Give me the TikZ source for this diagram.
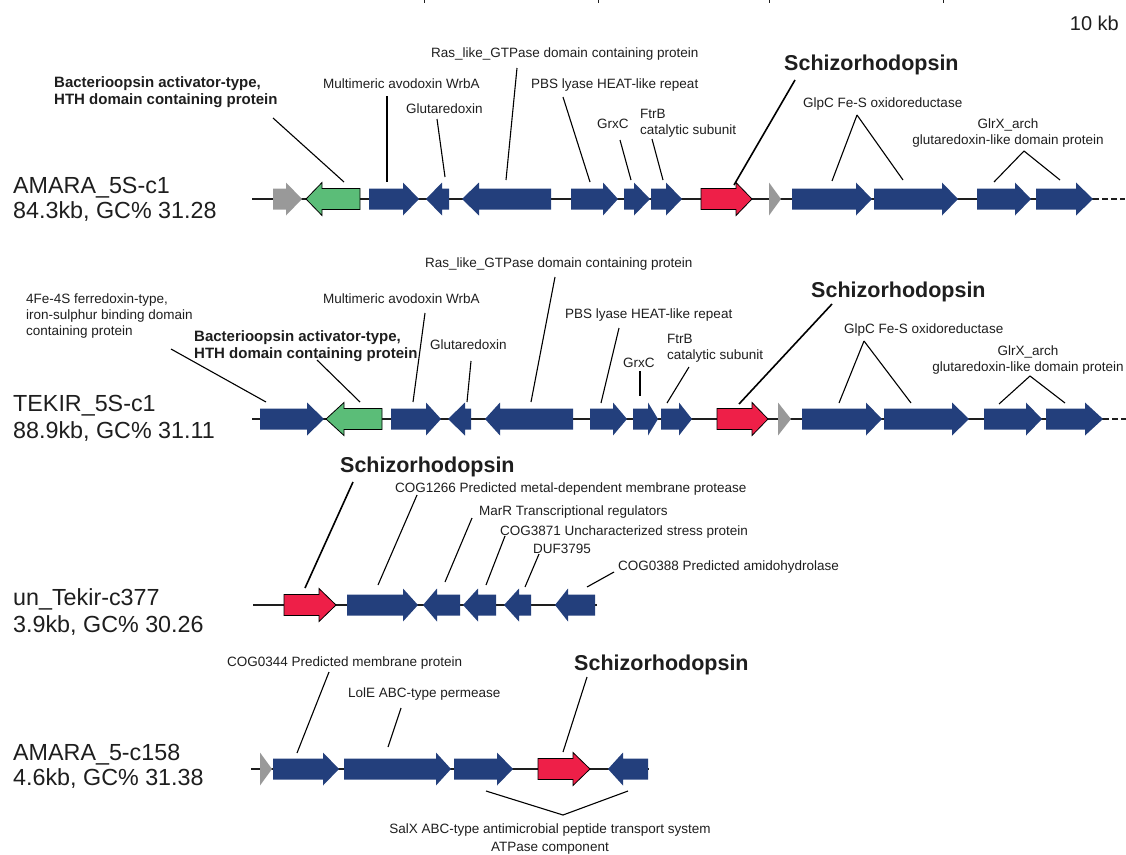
\documentclass[tikz,border=0pt]{standalone}
\usepackage{fontspec}
\setmainfont{Liberation Sans}
\usepackage{tikz}
\definecolor{geneblue}{HTML}{233F7C}
\definecolor{genered}{HTML}{EE1F48}
\definecolor{genegreen}{HTML}{5BBD78}
\definecolor{genegray}{HTML}{999999}
\definecolor{inktext}{HTML}{1E1E1E}

% gene arrow: [extra options]{colour}{tail}{head base}{tip}{row y}
\newcommand{\gene}[6][]{%
  \path[fill=#2, #1] (#3,#6-10.5) -- (#4,#6-10.5) -- (#4,#6-16.5) -- (#5,#6)
    -- (#4,#6+16.5) -- (#4,#6+10.5) -- (#3,#6+10.5) -- cycle;}

\begin{document}
\begin{tikzpicture}[x=1pt, y=-1pt,
  lab/.style={inner sep=0pt, text=inktext, font=\fontsize{13.5}{16}\selectfont},
  boldlab/.style={inner sep=0pt, text=inktext, font=\fontsize{15}{17}\selectfont\bfseries},
  rhod/.style={inner sep=0pt, text=inktext, font=\fontsize{21.5}{24}\selectfont\bfseries},
  contig/.style={inner sep=0pt, text=inktext, font=\fontsize{23.3}{26}\selectfont, anchor=base west},
  leader/.style={line width=1.1pt, black},
  rhodleader/.style={line width=1.6pt, black},
  backbone/.style={line width=1.4pt, inktext}]

\useasboundingbox (0,0) rectangle (1126,854);

% ---- Scale remnants (top) ----
\foreach \tx in {424, 598, 769, 943} {
  \draw[line width=0.8pt, inktext] (\tx,0) -- (\tx,3);
}
\node[inner sep=0pt, text=inktext, font=\fontsize{20}{22}\selectfont, anchor=base east] (scale) at (1119,30) {10 kb};

% ---- Row 1: AMARA_5S-c1 ----
\node[contig] (r1name) at (13,193) {AMARA\_5S-c1};
\node[contig] (r1info) at (13,218) {84.3kb, GC\% 31.28};

\draw[backbone] (252,199) -- (1093,199);
\draw[backbone, line width=2pt, dash pattern=on 6pt off 3pt] (1093,199) -- (1125,199);

\gene{genegray}{273}{286}{302}{199}
\gene[draw=black, line width=0.8pt]{genegreen}{360}{322}{306}{199}
\gene[draw=black, line width=0.8pt]{genered}{701}{736}{752}{199}
\gene{genegray}{769}{769}{781}{199}
\foreach \t/\b/\p in {369/403/419, 449/442/426, 551/479/462, 571/603/618,
  624/634/650, 651/666/682, 792/856/872, 874/942/958, 977/1015/1031, 1036/1076/1093} {
  \gene{geneblue}{\t}{\b}{\p}{199}
}

% multi-line labels: base anchor sits on the last line
\node[boldlab, anchor=base west, align=left] (r1bat) at (54,104.5) {Bacterioopsin activator-type,\\HTH domain containing protein};
\node[lab, anchor=base west] (r1wrba) at (323,88) {Multimeric avodoxin WrbA};
\node[lab, anchor=base west] (r1glu) at (406,113) {Glutaredoxin};
\node[lab, anchor=base west] (r1ras) at (431,57) {Ras\_like\_GTPase domain containing protein};
\node[lab, anchor=base west] (r1pbs) at (531,88) {PBS lyase HEAT-like repeat};
\node[lab, anchor=base west] (r1grx) at (597,128) {GrxC};
\node[lab, anchor=base west, align=left] (r1ftr) at (640,134) {FtrB\\catalytic subunit};
\node[rhod, anchor=base west] (r1rhod) at (784,70.5) {Schizorhodopsin};
\node[lab, anchor=base west] (r1glp) at (803,107) {GlpC Fe-S oxidoreductase};
\node[lab, anchor=base, align=center] (r1glr) at (1008,144) {GlrX\_arch\\glutaredoxin-like domain protein};

\foreach \n/\ax/\ay/\bx/\by in {r1bat/273/118/344/182, r1wrba/387/96/387/182,
  r1glu/437/119/445/177, r1ras/517/68/506/180, r1pbs/563/97/590/182,
  r1grx/620/140/631/180, r1ftr/652/139/663/180, r1glpa/857/115/832/181,
  r1glpb/857/115/903/180, r1glra/1024/151/994/182, r1glrb/1024/151/1060/180} {
  \coordinate (\n-a) at (\ax,\ay);
  \coordinate (\n-b) at (\bx,\by);
  \draw[leader] (\n-a) -- (\n-b);
}
\coordinate (r1rhod-a) at (795,80);
\coordinate (r1rhod-b) at (734,185);
\draw[rhodleader] (r1rhod-a) -- (r1rhod-b);

% ---- Row 2: TEKIR_5S-c1 ----
\node[contig] (r2name) at (13,411) {TEKIR\_5S-c1};
\node[contig] (r2info) at (13,438) {88.9kb, GC\% 31.11};

\draw[backbone] (252,419) -- (1103,419);
\draw[backbone, line width=2pt, dash pattern=on 6pt off 3pt] (1103,419) -- (1128,419);

\gene[draw=black, line width=0.8pt]{genegreen}{382}{344}{326}{419}
\gene[draw=black, line width=0.8pt]{genered}{717}{752}{768}{419}
\gene{genegray}{778}{778}{791}{419}
\foreach \t/\b/\p in {260/307/324, 391/426/441, 471/465/448, 573/500/485,
  590/613/627, 633/648/658, 661/679/692, 802/866/882, 884/952/969,
  984/1026/1042, 1046/1085/1103} {
  \gene{geneblue}{\t}{\b}{\p}{419}
}

\node[lab, anchor=base west, align=left] (r2fer) at (26,335) {4Fe-4S ferredoxin-type,\\iron-sulphur binding domain\\containing protein};
\node[lab, anchor=base west] (r2wrba) at (323,303) {Multimeric avodoxin WrbA};
\node[boldlab, anchor=base west, align=left] (r2bat) at (194,358) {Bacterioopsin activator-type,\\HTH domain containing protein};
\node[lab, anchor=base west] (r2glu) at (430,349) {Glutaredoxin};
\node[lab, anchor=base west] (r2ras) at (425,267) {Ras\_like\_GTPase domain containing protein};
\node[lab, anchor=base west] (r2pbs) at (565,318) {PBS lyase HEAT-like repeat};
\node[lab, anchor=base west] (r2grx) at (623,367) {GrxC};
\node[lab, anchor=base west, align=left] (r2ftr) at (667,359) {FtrB\\catalytic subunit};
\node[rhod, anchor=base west] (r2rhod) at (811,297.5) {Schizorhodopsin};
\node[lab, anchor=base west] (r2glp) at (844,333) {GlpC Fe-S oxidoreductase};
\node[lab, anchor=base, align=center] (r2glr) at (1028,371) {GlrX\_arch\\glutaredoxin-like domain protein};

\foreach \n/\ax/\ay/\bx/\by in {r2fer/171/349/266/402, r2wrba/425/313/413/402,
  r2bat/317/360/360/402, r2glu/471/361/467/402, r2ras/555/277/531/402,
  r2pbs/619/328/601/403, r2grx/640/371/640/396, r2ftr/689/367/667/403,
  r2glpa/864/341/839/403, r2glpb/864/341/911/403, r2glra/1030/376/999/404,
  r2glrb/1030/376/1065/403} {
  \coordinate (\n-a) at (\ax,\ay);
  \coordinate (\n-b) at (\bx,\by);
  \draw[leader] (\n-a) -- (\n-b);
}
\coordinate (r2rhod-a) at (832,304);
\coordinate (r2rhod-b) at (739,404);
\draw[rhodleader] (r2rhod-a) -- (r2rhod-b);

% ---- Row 3: un_Tekir-c377 ----
\node[contig] (r3name) at (13,605) {un\_Tekir-c377};
\node[contig] (r3info) at (13,632) {3.9kb, GC\% 30.26};

\draw[backbone] (253,605) -- (597,605);

\gene[draw=black, line width=0.8pt]{genered}{284}{319}{336}{605}
\foreach \t/\b/\p in {347/403/418, 460/437/423, 496/478/463, 531/519/504, 595/568/555} {
  \gene{geneblue}{\t}{\b}{\p}{605}
}

\node[rhod, anchor=base west] (r3rhod) at (340,472.5) {Schizorhodopsin};
\node[lab, anchor=base west] (r3cog1266) at (395,492) {COG1266 Predicted metal-dependent membrane protease};
\node[lab, anchor=base west] (r3marr) at (479,515) {MarR Transcriptional regulators};
\node[lab, anchor=base west] (r3cog3871) at (500,535) {COG3871 Uncharacterized stress protein};
\node[lab, anchor=base west] (r3duf) at (533,553) {DUF3795};
\node[lab, anchor=base west] (r3cog0388) at (618,570) {COG0388 Predicted amidohydrolase};

\foreach \n/\ax/\ay/\bx/\by in {r3cog1266/417/495/378/585, r3marr/472/518/445/582,
  r3cog3871/505/536/486/585, r3duf/539/554/525/587, r3cog0388/614/572/587/587} {
  \coordinate (\n-a) at (\ax,\ay);
  \coordinate (\n-b) at (\bx,\by);
  \draw[leader] (\n-a) -- (\n-b);
}
\coordinate (r3rhod-a) at (353,482);
\coordinate (r3rhod-b) at (305,588);
\draw[rhodleader] (r3rhod-a) -- (r3rhod-b);

% ---- Row 4: AMARA_5-c158 ----
\node[contig] (r4name) at (13,760) {AMARA\_5-c158};
\node[contig] (r4info) at (13,785) {4.6kb, GC\% 31.38};

\draw[backbone] (251,769) -- (649,769);

\gene{genegray}{260}{260}{272}{769}
\gene[draw=black, line width=0.8pt]{genered}{538}{573}{590}{769}
\foreach \t/\b/\p in {273/323/339, 344/436/451, 454/497/513, 648/623/608} {
  \gene{geneblue}{\t}{\b}{\p}{769}
}

\node[lab, anchor=base west] (r4cog0344) at (227,666) {COG0344 Predicted membrane protein};
\node[lab, anchor=base west] (r4lole) at (348,697) {LolE ABC-type permease};
\node[rhod, anchor=base west] (r4rhod) at (574,670.5) {Schizorhodopsin};
\node[lab, anchor=base, align=center] (r4salx) at (550,851) {SalX ABC-type antimicrobial peptide transport system\\[2pt]ATPase component};

\foreach \n/\ax/\ay/\bx/\by in {r4cog0344/329/672/297/753, r4lole/401/708/388/747,
  r4rhod/587/677/563/752} {
  \coordinate (\n-a) at (\ax,\ay);
  \coordinate (\n-b) at (\bx,\by);
  \draw[leader] (\n-a) -- (\n-b);
}
\coordinate (r4salx-l) at (486,791);
\coordinate (r4salx-m) at (563,815);
\coordinate (r4salx-r) at (628,791);
\draw[leader] (r4salx-l) -- (r4salx-m) -- (r4salx-r);

\end{tikzpicture}
\end{document}
